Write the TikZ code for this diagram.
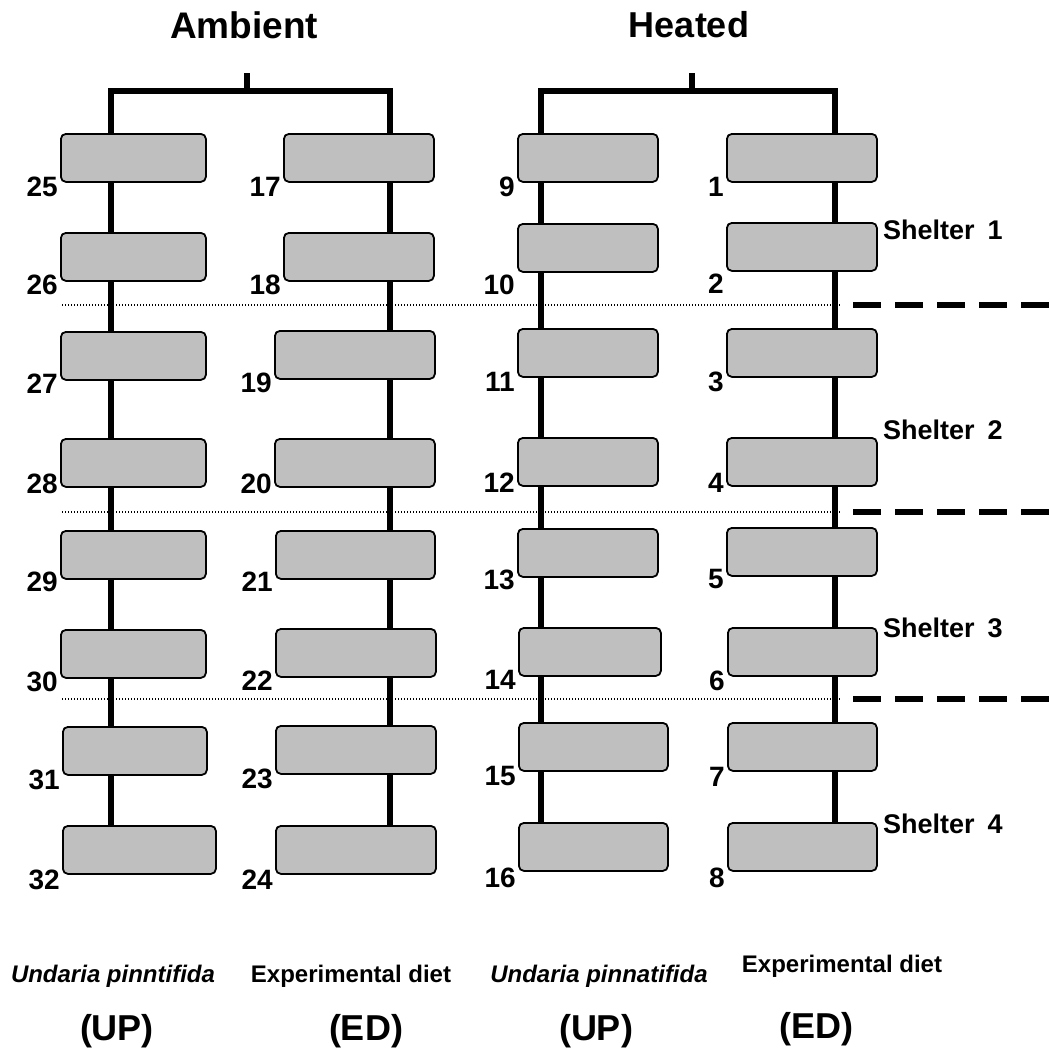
\documentclass[tikz,border=0pt]{standalone}
\usepackage{fontspec}
\setmainfont{Liberation Sans}
\begin{document}
\begin{tikzpicture}[x=1pt,y=1pt,
  box/.style={draw=black, line width=1.8pt, rounded corners=5pt, fill=black!25, inner sep=0pt, anchor=north west},
  num/.style={font=\fontsize{28}{28}\selectfont\bfseries, inner sep=0pt, anchor=east},
  stem/.style={line width=6.5pt},
  dotline/.style={line width=1.1pt, dash pattern=on 1.2pt off 1.8pt},
  dashline/.style={line width=6pt, dash pattern=on 28pt off 14pt},
  head/.style={font=\fontsize{36}{36}\selectfont\bfseries, inner sep=0pt, anchor=base},
  shel/.style={font=\fontsize{27}{27}\selectfont\bfseries, inner sep=0pt, anchor=base west},
  trt/.style={font=\fontsize{24}{24}\selectfont\bfseries, inner sep=0pt, anchor=base},
  code/.style={font=\fontsize{36}{36}\selectfont\bfseries, inner sep=0pt, anchor=base}
]
\useasboundingbox (0,0) rectangle (1050,-1050);
\newcommand\bx[4]{\node[box, minimum width=#3pt, minimum height=48pt] (b#1) at (#2,-#4) {};}
% column 1: Ambient UP
\bx{25}{60}{145}{133}
\bx{26}{60}{145}{232}
\bx{27}{60}{145}{331}
\bx{28}{60}{145}{438}
\bx{29}{60}{145}{530}
\bx{30}{60}{145}{629}
\bx{31}{62}{144}{726}
\bx{32}{62}{153}{825}
% column 2: Ambient ED
\bx{17}{283}{150}{133}
\bx{18}{283}{150}{232}
\bx{19}{274}{160}{330}
\bx{20}{274}{160}{438}
\bx{21}{275}{159}{530}
\bx{22}{275}{160}{628}
\bx{23}{275}{160}{725}
\bx{24}{275}{160}{825}
% column 3: Heated UP
\bx{9}{517}{140}{133}
\bx{10}{517}{140}{223}
\bx{11}{517}{140}{328}
\bx{12}{517}{140}{437}
\bx{13}{517}{140}{528}
\bx{14}{518}{142}{627}
\bx{15}{518}{149}{722}
\bx{16}{518}{149}{822}
% column 4: Heated ED
\bx{1}{726}{150}{133}
\bx{2}{726}{150}{222}
\bx{3}{726}{150}{328}
\bx{4}{726}{150}{437}
\bx{5}{726}{150}{527}
\bx{6}{727}{149}{627}
\bx{7}{727}{149}{722}
\bx{8}{727}{149}{822}

% brackets
\coordinate (aT) at (247,-73);
\coordinate (aM) at (247,-91);
\coordinate (aL) at (111,-91);
\coordinate (aR) at (390,-91);
\coordinate (hT) at (692,-73);
\coordinate (hM) at (692,-91);
\coordinate (hL) at (541,-91);
\coordinate (hR) at (835,-91);
\draw[stem] (aT) -- (aM);
\draw[stem] (b25.north -| aL) -- (aL) -- (aR) -- (b17.north -| aR);
\draw[stem] (hT) -- (hM);
\draw[stem] (b9.north -| hL) -- (hL) -- (hR) -- (b1.north -| hR);

% stems between boxes
\foreach \a/\b in {25/26,26/27,27/28,28/29,29/30,30/31,31/32}
  \draw[stem] (b\a.south -| aL) -- (b\b.north -| aL);
\foreach \a/\b in {17/18,18/19,19/20,20/21,21/22,22/23,23/24}
  \draw[stem] (b\a.south -| aR) -- (b\b.north -| aR);
\foreach \a/\b in {9/10,10/11,11/12,12/13,13/14,14/15,15/16}
  \draw[stem] (b\a.south -| hL) -- (b\b.north -| hL);
\foreach \a/\b in {1/2,2/3,3/4,4/5,5/6,6/7,7/8}
  \draw[stem] (b\a.south -| hR) -- (b\b.north -| hR);

% shelter boundaries
\foreach \i/\y in {1/305,2/512,3/699}{
  \coordinate (d\i L) at (62,-\y);
  \coordinate (d\i M) at (840,-\y);
  \coordinate (d\i S) at (853,-\y);
  \coordinate (d\i R) at (1050,-\y);
  \draw[dotline] (d\i L) -- (d\i M);
  \draw[dashline] (d\i S) -- (d\i R);
}

% number labels
\foreach \n/\s in {25/-4,17/-4,9/-4,1/-4,
                   26/-3,18/-3,10/-12,2/-12,
                   27/-3,19/-3,11/-4,3/-4,
                   28/4,20/4,12/4,4/4,
                   29/-2,21/-2,13/-2,5/-2,
                   30/-3,22/-3,14/-3,6/-4,
                   31/-4,23/-4,15/-4,7/-5,
                   32/-5,24/-5,16/-6,8/-6}
  \node[num] (n\n) at ([xshift=-2pt,yshift=\s pt]b\n.south west) {\n};

% headings
\node[head, font=\fontsize{37}{37}\selectfont\bfseries] (ambient) at (244,-38) {Ambient};
\node[head] (heated) at (689,-37) {Heated};

% shelters
\node[shel] (s1) at (883,-239) {Shelter\hspace{0.2em} 1};
\node[shel] (s2) at (883,-439) {Shelter\hspace{0.2em} 2};
\node[shel] (s3) at (883,-637) {Shelter\hspace{0.2em} 3};
\node[shel] (s4) at (883,-833) {Shelter\hspace{0.2em} 4};

% treatments
\node[trt] (t1) at (113,-982) {\itshape Undaria pinntifida};
\node[trt] (t2) at (351,-982) {Experimental diet};
\node[trt] (t3) at (599,-982) {\itshape Undaria pinnatifida};
\node[trt] (t4) at (842,-972) {Experimental diet};
\node[code] (c1) at (117,-1040) {(UP)};
\node[code] (c2) at (366,-1040) {(ED)};
\node[code] (c3) at (596,-1040) {(UP)};
\node[code] (c4) at (816,-1038) {(ED)};
\end{tikzpicture}
\end{document}
